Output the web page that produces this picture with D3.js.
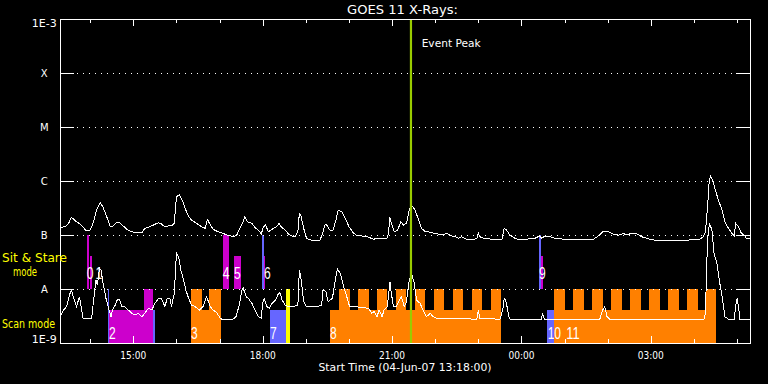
<!DOCTYPE html>
<html><head><meta charset="utf-8">
<script src="https://cdn.jsdelivr.net/npm/d3@7"></script>
<style>html,body{margin:0;padding:0;background:#000;} svg{display:block;}</style>
</head><body>
<svg id="c" width="768" height="384"></svg>
<script>
// ---------- DATA ----------
const startTimeUTC = Date.UTC(2007, 5, 4, 13, 18, 0);   // 04-Jun-07 13:18:00
const durationMin = 960;
const eventPeakMin = 488.3;

const levelNames = ["1E-9", "A", "B", "C", "M", "X", "1E-3"];
const levelFlux  = [1e-9, 1e-8, 1e-7, 1e-6, 1e-5, 1e-4, 1e-3];

// GOES long channel (minutes after start, W/m^2)
const longT = [0,7,12,16,21,28,32,37,42,46, 51,56,60,65,70,74,79,83,88,93,
  100,107,114,118,125,132,137,141,146,151, 155,159,162,166,171,174,179,183,190,197,
  202,205,208,213,220,227,232,237,241,246, 250,254,257,261,267,271,278,280,283,286,
  290,294,297,301,305,308,313,318,322,327, 331,333,335,339,343,348,355,362,366,369,
  372,376,380,384,387,392,397,402,408,413, 420,427,433,436,441,448,455,457,459,461,
  465,470,474,478,482,486,489,494,499,503, 508,512,522,531,538,545,550,554,559,566,
  573,580,582,584,589,603,615,618,621,626, 633,640,647,654,661,667,670,675,682,689,
  700,714,728,742,749,755,763,770,777,784, 788,795,802,809,816,825,842,860,877,883,
  890,895,898,901,903,905,908,911,916,921, 925,930,935,938,940,944,948,952,955,960];
const longFlux = [1.39e-7,1.42e-7,1.65e-7,2.13e-7,1.84e-7,1.6e-7,1.39e-7,1.19e-7,1.24e-7,1.65e-7,
  2.9e-7,3.96e-7,3.26e-7,2.18e-7,1.42e-7,1.47e-7,1.72e-7,1.69e-7,1.47e-7,1.27e-7,
  1.15e-7,1.1e-7,1.1e-7,1.33e-7,1.42e-7,1.58e-7,1.69e-7,1.6e-7,1.42e-7,1.47e-7,
  1.47e-7,1.65e-7,5.12e-7,5.51e-7,4.14e-7,3.12e-7,2.18e-7,1.9e-7,1.65e-7,1.42e-7,
  1.33e-7,1.95e-7,1.65e-7,1.27e-7,1.15e-7,1.07e-7,1.0e-7,9.7e-8,9.3e-8,1.0e-7,
  1.33e-7,1.65e-7,2.18e-7,1.76e-7,1.65e-7,1.39e-7,1.15e-7,1.04e-7,1.42e-7,1.53e-7,
  1.15e-7,1.24e-7,1.33e-7,1.42e-7,1.65e-7,1.39e-7,1.24e-7,1.04e-7,9.6e-8,9.3e-8,
  1.15e-7,2.52e-7,2.35e-7,1.33e-7,8.7e-8,8.1e-8,7.85e-8,8.1e-8,1.15e-7,1.6e-7,
  1.47e-7,1.2e-7,1.24e-7,1.9e-7,2.9e-7,2.7e-7,2.04e-7,1.42e-7,1.1e-7,9.7e-8,
  9.6e-8,9.3e-8,8.7e-8,8.3e-8,8.7e-8,8.7e-8,8.7e-8,1.07e-7,2.13e-7,1.65e-7,
  1.15e-7,1.24e-7,1.76e-7,1.53e-7,1.65e-7,2.9e-7,3.59e-7,2.9e-7,1.9e-7,1.33e-7,
  1.15e-7,1.15e-7,1.07e-7,1.0e-7,1.07e-7,9.6e-8,9.3e-8,8.7e-8,9.3e-8,8.3e-8,
  8.1e-8,8.7e-8,1.1e-7,9.3e-8,8.7e-8,8.3e-8,8.3e-8,1.33e-7,1.24e-7,1.0e-7,
  8.7e-8,8.1e-8,8.1e-8,8.7e-8,8.7e-8,9.6e-8,8.7e-8,9.6e-8,9.3e-8,8.7e-8,
  8.4e-8,8.1e-8,8.1e-8,8.3e-8,9.6e-8,1.15e-7,1.15e-7,1.04e-7,9.9e-8,1.07e-7,
  1.0e-7,1.07e-7,1.07e-7,9.3e-8,8.7e-8,8.1e-8,7.85e-8,7.85e-8,8.1e-8,8.3e-8,
  8.3e-8,9.3e-8,1.15e-7,3.34e-7,9.06e-7,1.24e-6,1.04e-6,7.33e-7,4.45e-7,2.9e-7,
  1.76e-7,1.33e-7,1.07e-7,9.6e-8,1.65e-7,1.42e-7,1.07e-7,1.0e-7,8.7e-8,8.7e-8];

// GOES short channel
const shortT = [0,5,9,14,16,19,23,27,32,44, 46,50,52,55,57,60,64,67,71,73,
  77,80,83,86,90,95,100,104,109,114, 118,123,128,132,137,141,146,149,153,155,
  159,162,165,168,172,175,179,183,188,194, 199,204,209,213,218,223,227,239,245,250,
  253,255,259,262,267,271,276,280,282,284, 288,291,295,300,304,306,309,313,318,325,
  331,333,335,339,343,357,364,366,370,373, 379,383,386,390,394,399,403,410,420,429,
  434,437,441,444,448,451,455,457,459,461, 464,468,471,475,479,482,486,489,493,496,
  501,505,510,515,519,524,550,580,582,584, 612,616,618,620,622,625,628,670,671,674,
  751,755,758,761,765,896,898,900,902,904, 907,910,914,918,922,925,930,938,940,942,
  944,946,960];
const shortFlux = [3.07e-9,4.09e-9,4.7e-9,8.3e-9,9.6e-9,6.7e-9,4.7e-9,7.2e-9,2.87e-9,2.87e-9,
  5.06e-9,1.47e-8,1.19e-8,2.42e-8,2.25e-8,1.27e-8,6.7e-9,4.7e-9,3.07e-9,4.09e-9,
  5.06e-9,6.45e-9,6.26e-9,4.7e-9,4.7e-9,4.09e-9,3.55e-9,3.3e-9,3.55e-9,3.07e-9,
  3.55e-9,4.39e-9,4.09e-9,5.44e-9,6.7e-9,6.7e-9,4.7e-9,6.7e-9,6.7e-9,4.7e-9,
  8.3e-9,4.58e-8,3.96e-8,2.25e-8,1.47e-8,9.6e-9,6.7e-9,5.06e-9,4.7e-9,4.09e-9,
  4.7e-9,7.2e-9,4.7e-9,4.09e-9,3.64e-9,2.87e-9,2.67e-9,2.67e-9,3.07e-9,5.44e-9,
  9.6e-9,1.03e-8,7.2e-9,6.7e-9,5.44e-9,4.09e-9,3.07e-9,2.87e-9,5.44e-9,6.7e-9,
  4.7e-9,4.39e-9,5.44e-9,6.26e-9,8.3e-9,8.5e-9,6.26e-9,5.06e-9,4.7e-9,4.7e-9,
  5.06e-9,2.25e-8,1.69e-8,5.82e-9,4.7e-9,4.7e-9,5.06e-9,9.6e-9,8.9e-9,5.82e-9,
  6.7e-9,1.47e-8,2.32e-8,1.95e-8,1.19e-8,7.2e-9,4.7e-9,4.7e-9,4.58e-9,4.39e-9,
  3.55e-9,3.8e-9,3.07e-9,4.09e-9,3.07e-9,4.09e-9,4.7e-9,7.2e-9,1.37e-8,8.3e-9,
  4.7e-9,4.7e-9,5.82e-9,7.2e-9,4.7e-9,5.82e-9,1.47e-8,1.95e-8,1.27e-8,6.26e-9,
  5.44e-9,4.09e-9,3.07e-9,3.55e-9,3.07e-9,2.87e-9,2.87e-9,2.75e-9,4.09e-9,2.87e-9,
  2.75e-9,4.09e-9,6.7e-9,6.26e-9,4.7e-9,2.87e-9,2.67e-9,2.67e-9,3.55e-9,2.75e-9,
  2.75e-9,4.09e-9,4.7e-9,3.07e-9,2.75e-9,2.75e-9,3.64e-9,3.44e-8,1.24e-7,1.6e-7,
  1.24e-7,4.58e-8,2.99e-8,1.27e-8,6.26e-9,3.07e-9,2.75e-9,2.75e-9,4.7e-9,6.7e-9,
  4.7e-9,2.75e-9,2.75e-9];

// Observation segments: [startMin, endMin, topFlux, kind]
const stareSegments = [
  [37.1, 40.8, 1e-7, "stare"], [41.7, 44.1, 4.1e-8, "stare"],
  [226.4, 235.1, 1e-7, "stare"], [242.1, 252.2, 4.1e-8, "stare"],
  [281.0, 283.8, 1e-7, "cal"], [283.8, 285.6, 4.1e-8, "stare"],
  [666.4, 668.8, 1e-7, "cal"], [668.8, 671.6, 4.1e-8, "stare"]
];
const scanSegments = [
  [66.4, 68.2, 1e-8, "cal"], [68.2, 129.4, 4.1e-9, "stare"], [116.9, 129.0, 1e-8, "stare"],
  [129.4, 131.8, 4.1e-9, "cal"],
  [182.3, 198.2, 1e-8, "raster"], [198.2, 207.9, 4.1e-9, "raster"], [207.9, 223.6, 1e-8, "raster"],
  [292.2, 314.4, 4.1e-9, "cal"], [314.4, 320.0, 1e-8, "flag"],
  [375.7, 613.2, 4.1e-9, "raster"],
  [677.6, 687.3, 4.1e-9, "cal"],
  [687.3, 912.7, 4.1e-9, "raster"]
];
const rasterTeeth = [
  [388.2,403.1],[414.9,429.3],[441.3,455.2],[467.5,481.8],[494.0,508.0],[520.8,534.5],
  [546.8,561.1],[573.2,587.5],[600.0,613.2],
  [687.3,702.6],[713.7,729.0],[740.2,755.5],[766.3,781.9],[793.0,808.3],[819.4,834.8],
  [845.9,861.2],[872.3,887.6],[898.7,912.7]
];
const obsLabels    = ["0","1","2","3","4","5","6","7","8","9","10","11"];
const obsLabelTime = [37.1, 49.5, 68.2, 182.3, 226.4, 242.1, 283.8, 292.2, 375.7, 666.4, 678.5, 704.5];
const obsLabelMode = ["stare","stare","scan","scan","stare","stare","stare","scan","scan","stare","scan","scan"];

// ---------- CHART ----------
const svg = d3.select("#c");
const FONT = "DejaVu Sans, sans-serif";
svg.append("rect").attr("width", 768).attr("height", 384).attr("fill", "#000");

const x = d3.scaleUtc()
  .domain([new Date(startTimeUTC), new Date(startTimeUTC + durationMin * 60000)])
  .range([60, 750]);
const y = d3.scaleLog().domain([1e-9, 1e-3]).range([343, 19]);
const tx = m => x(new Date(startTimeUTC + m * 60000));
const kindColor = d3.scaleOrdinal()
  .domain(["stare", "cal", "raster", "flag"])
  .range(["#cc00cc", "#6666ff", "#ff8000", "#ffff00"]);

const segG = svg.append("g").attr("shape-rendering", "crispEdges");
function drawSeg(list, base) {
  segG.selectAll(null).data(list).enter().append("rect")
    .attr("x", d => tx(d[0]))
    .attr("width", d => tx(d[1]) - tx(d[0]))
    .attr("y", d => y(d[2]))
    .attr("height", d => y(base) - y(d[2]))
    .attr("fill", d => kindColor(d[3]));
}
drawSeg(stareSegments, 1e-8);
drawSeg(scanSegments, 1e-9);
drawSeg(rasterTeeth.map(d => [d[0], d[1], 1e-8, "raster"]), 1e-9);

// grid + y ticks
const axG = svg.append("g").attr("stroke", "#fff").attr("stroke-width", 1).attr("shape-rendering", "crispEdges");
levelFlux.slice(1, 6).forEach(f => {
  const yy = Math.round(y(f)) + 0.5;
  axG.append("line").attr("x1", 77).attr("x2", 736).attr("y1", yy).attr("y2", yy).attr("stroke-dasharray", "1,5");
  axG.append("line").attr("x1", 60).attr("x2", 74).attr("y1", yy).attr("y2", yy);
  axG.append("line").attr("x1", 736).attr("x2", 750).attr("y1", yy).attr("y2", yy);
});
axG.append("rect").attr("x", 60.5).attr("y", 19.5).attr("width", 690).attr("height", 324).attr("fill", "none");

// x ticks
const hours = d3.utcHour.every(1).range(x.domain()[0], x.domain()[1]);
hours.forEach(h => {
  const major = h.getUTCHours() % 3 === 0;
  const xx = Math.round(x(h)) + 0.5;
  const len = major ? 7 : 4;
  axG.append("line").attr("x1", xx).attr("x2", xx).attr("y1", 343).attr("y2", 343 - len);
  axG.append("line").attr("x1", xx).attr("x2", xx).attr("y1", 20).attr("y2", 20 + (major ? 6 : 3));
});
const fmt = d3.utcFormat("%H:%M");
svg.append("g").selectAll("text").data(hours.filter(h => h.getUTCHours() % 3 === 0)).enter().append("text")
  .attr("x", d => x(d)).attr("y", 359).attr("text-anchor", "middle")
  .attr("font-family", FONT).attr("font-size", 10).attr("fill", "#fff")
  .attr("textLength", 26).attr("lengthAdjust", "spacingAndGlyphs")
  .text(d => fmt(d));

// y labels
levelNames.forEach((n, i) => {
  let yy = y(levelFlux[i]) + 3.7;
  if (i === 6) yy = y(levelFlux[i]) + 7.7;
  if (i === 0) yy = y(levelFlux[i]) + 0.3;
  const t = svg.append("text").attr("x", 44.3).attr("y", yy).attr("text-anchor", "middle")
    .attr("font-family", FONT).attr("font-size", 10).attr("fill", "#fff").text(n);
  if (n.length > 1) t.attr("textLength", 25).attr("lengthAdjust", "spacingAndGlyphs");
});

// curves
const line = (T, F) => d3.line().x(i => tx(T[i])).y(i => y(F[i]))(d3.range(T.length));
const curveG = svg.append("g").attr("fill", "none").attr("stroke", "#fff").attr("stroke-width", 1)
  .attr("shape-rendering", "crispEdges");
curveG.append("path").attr("d", line(longT, longFlux));
curveG.append("path").attr("d", line(shortT, shortFlux));

// event peak
const ex = tx(eventPeakMin);
svg.append("line").attr("x1", ex).attr("x2", ex).attr("y1", 20).attr("y2", 343)
  .attr("stroke", "#99cc00").attr("stroke-width", 2.2);
svg.append("text").attr("x", ex + 10.7).attr("y", 46.7)
  .attr("font-family", FONT).attr("font-size", 11).attr("fill", "#fff")
  .attr("textLength", 59).attr("lengthAdjust", "spacingAndGlyphs").text("Event Peak");

// observation labels
svg.append("g").selectAll("text").data(obsLabels).enter().append("text")
  .attr("x", (d, i) => tx(obsLabelTime[i]))
  .attr("y", (d, i) => obsLabelMode[i] === "stare" ? y(1.53e-8) : y(1.19e-9))
  .attr("font-family", "Liberation Sans, sans-serif").attr("font-size", 16).attr("fill", "#fff")
  .attr("textLength", d => d.length * 6.7).attr("lengthAdjust", "spacingAndGlyphs")
  .text(d => d);

// titles
svg.append("text").attr("x", 402.5).attr("y", 14).attr("text-anchor", "middle")
  .attr("font-family", FONT).attr("font-size", 13).attr("fill", "#fff")
  .attr("textLength", 111).attr("lengthAdjust", "spacingAndGlyphs").text("GOES 11 X-Rays:");
svg.append("text").attr("x", 405).attr("y", 371).attr("text-anchor", "middle")
  .attr("font-family", FONT).attr("font-size", 11).attr("fill", "#fff")
  .attr("textLength", 173).attr("lengthAdjust", "spacingAndGlyphs").text("Start Time (04-Jun-07 13:18:00)");

const yl = [["Sit & Stare", 2, 262, 65, 11.5], ["mode", 13, 276, 24, 11.5], ["Scan mode", 2, 328, 53, 12]];
yl.forEach(d => {
  svg.append("text").attr("x", d[1]).attr("y", d[2])
    .attr("font-family", FONT).attr("font-size", d[4]).attr("fill", "#ffff00")
    .attr("textLength", d[3]).attr("lengthAdjust", "spacingAndGlyphs").text(d[0]);
});
</script>
</body></html>
